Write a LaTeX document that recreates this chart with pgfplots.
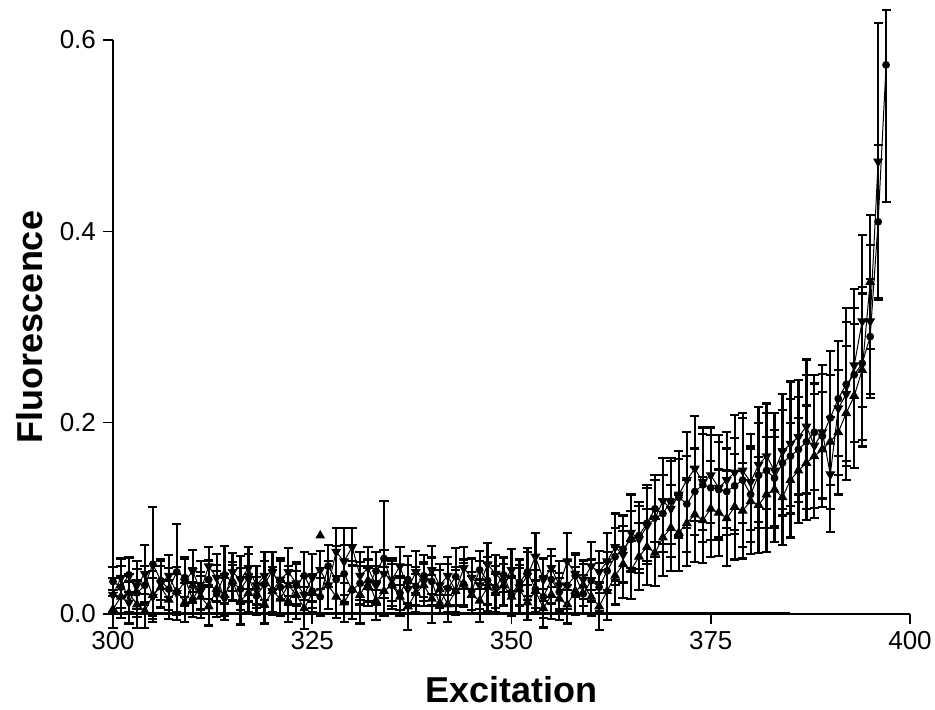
\documentclass[border=0pt]{standalone}
\usepackage{fontspec}
\setmainfont{Liberation Sans}
\usepackage{pgfplots}
\usepackage{pgfplotstable}
\pgfplotsset{compat=1.18}

\pgfplotstableread{
x y ep em
300 0.034 0.015 0.015
301 0.028 0.022 0.022
302 0.041 0.018 0.018
303 0.022 0.025 0.025
304 0.030 0.020 0.020
305 0.052 0.060 0.060
306 0.035 0.020 0.020
307 0.026 0.022 0.022
308 0.044 0.050 0.050
309 0.038 0.020 0.020
310 0.015 0.018 0.018
311 0.030 0.025 0.025
312 0.036 0.020 0.020
313 0.021 0.024 0.024
314 0.041 0.030 0.030
315 0.033 0.018 0.018
316 0.026 0.022 0.022
317 0.038 0.025 0.025
318 0.019 0.020 0.020
319 0.031 0.024 0.024
320 0.045 0.020 0.020
321 0.028 0.030 0.030
322 0.012 0.020 0.020
323 0.030 0.022 0.022
324 0.040 0.025 0.025
325 0.024 0.018 0.018
326 0.018 0.020 0.020
327 0.050 0.022 0.022
328 0.036 0.035 0.035
329 0.042 0.030 0.030
330 0.025 0.030 0.030
331 0.032 0.022 0.022
332 0.028 0.020 0.020
333 0.045 0.020 0.020
334 0.058 0.060 0.060
335 0.030 0.025 0.025
336 0.022 0.018 0.018
337 0.036 0.025 0.025
338 0.029 0.020 0.020
339 0.040 0.022 0.022
340 0.034 0.025 0.025
341 0.010 0.010 0.010
342 0.027 0.025 0.025
343 0.039 0.030 0.030
344 0.031 0.022 0.022
345 0.024 0.020 0.020
346 0.046 0.020 0.020
347 0.035 0.025 0.025
348 0.028 0.022 0.022
349 0.041 0.018 0.018
350 0.020 0.020 0.020
351 0.033 0.024 0.024
352 0.044 0.025 0.025
353 0.026 0.020 0.020
354 0.018 0.022 0.022
355 0.036 0.025 0.025
356 0.023 0.020 0.020
357 0.030 0.025 0.025
358 0.040 0.022 0.022
359 0.021 0.020 0.020
360 0.035 0.022 0.022
361 0.028 0.025 0.025
362 0.045 0.020 0.020
363 0.060 0.030 0.030
364 0.068 0.035 0.035
365 0.078 0.030 0.030
366 0.082 0.035 0.035
367 0.095 0.040 0.040
368 0.110 0.035 0.035
369 0.105 0.040 0.040
370 0.118 0.045 0.045
371 0.122 0.040 0.040
372 0.115 0.050 0.050
373 0.128 0.045 0.045
374 0.135 0.060 0.060
375 0.132 0.055 0.055
376 0.130 0.050 0.050
377 0.128 0.045 0.045
378 0.134 0.050 0.050
379 0.140 0.070 0.070
380 0.125 0.050 0.050
381 0.145 0.055 0.055
382 0.150 0.060 0.060
383 0.142 0.050 0.050
384 0.158 0.055 0.055
385 0.165 0.060 0.060
386 0.172 0.055 0.055
387 0.180 0.070 0.070
388 0.190 0.060 0.060
389 0.186 0.065 0.065
390 0.205 0.070 0.070
391 0.225 0.060 0.060
392 0.240 0.080 0.080
393 0.250 0.070 0.070
394 0.262 0.080 0.080
395 0.290 0.060 0.060
396 0.410 0.080 0.080
397 0.574 0.057 0.143
}\seriesA

\pgfplotstableread{
x y e
300 0.005 0.020
301 0.018 0.022
302 0.022 0.020
303 0.010 0.025
304 0.003 0.018
305 0.020 0.025
306 0.028 0.022
307 0.015 0.020
308 0.024 0.025
309 0.012 0.020
310 0.030 0.018
311 0.018 0.022
312 0.008 0.020
313 0.026 0.025
314 0.020 0.022
315 0.034 0.020
316 0.014 0.025
317 0.022 0.020
318 0.028 0.022
319 0.010 0.020
320 0.024 0.025
321 0.016 0.018
322 0.030 0.020
323 0.020 0.025
324 0.006 0.022
325 0.022 0.020
327 0.030 0.025
328 0.018 0.022
329 0.012 0.020
330 0.026 0.025
331 0.020 0.030
332 0.035 0.022
333 0.014 0.020
334 0.024 0.025
335 0.030 0.022
336 0.018 0.020
337 0.008 0.025
338 0.022 0.020
339 0.030 0.022
340 0.016 0.025
341 0.026 0.020
342 0.010 0.018
343 0.024 0.022
344 0.032 0.025
345 0.020 0.020
346 0.014 0.022
347 0.028 0.025
348 0.022 0.020
349 0.030 0.022
350 0.018 0.020
351 0.026 0.025
352 0.012 0.018
353 0.024 0.022
354 0.006 0.020
355 0.020 0.025
356 0.016 0.022
357 0.010 0.020
358 0.024 0.025
359 0.030 0.022
360 0.018 0.020
361 0.008 0.025
362 0.024 0.030
363 0.040 0.030
364 0.052 0.035
365 0.046 0.030
366 0.060 0.035
367 0.070 0.040
368 0.064 0.035
369 0.080 0.040
370 0.090 0.045
371 0.085 0.040
372 0.095 0.045
373 0.104 0.050
374 0.098 0.045
375 0.110 0.050
376 0.106 0.045
377 0.100 0.050
378 0.112 0.055
379 0.108 0.050
380 0.118 0.055
381 0.114 0.050
382 0.125 0.060
383 0.130 0.055
384 0.122 0.050
385 0.140 0.060
386 0.150 0.055
387 0.158 0.060
388 0.165 0.065
389 0.172 0.060
390 0.180 0.070
391 0.190 0.065
392 0.210 0.070
393 0.228 0.075
394 0.255 0.080
395 0.347 0.070
}\seriesB

\pgfplotstableread{
x y e
300 0.020 0.018
301 0.038 0.020
302 0.012 0.022
303 0.030 0.025
304 0.042 0.030
305 0.018 0.020
306 0.032 0.025
307 0.040 0.022
308 0.022 0.020
309 0.034 0.025
310 0.045 0.022
311 0.024 0.020
312 0.050 0.020
313 0.038 0.025
314 0.016 0.022
315 0.044 0.020
316 0.036 0.025
317 0.048 0.022
318 0.030 0.020
319 0.040 0.025
320 0.024 0.022
321 0.036 0.020
322 0.044 0.025
323 0.032 0.022
324 0.020 0.020
325 0.038 0.025
326 0.046 0.020
327 0.030 0.025
328 0.065 0.025
329 0.055 0.035
330 0.070 0.020
331 0.040 0.025
332 0.048 0.022
333 0.030 0.020
334 0.042 0.025
335 0.036 0.022
336 0.050 0.020
337 0.026 0.025
338 0.044 0.022
339 0.034 0.020
340 0.046 0.025
341 0.030 0.022
342 0.040 0.020
343 0.024 0.025
344 0.048 0.022
345 0.038 0.020
346 0.030 0.025
347 0.052 0.022
348 0.042 0.020
349 0.034 0.025
350 0.046 0.022
351 0.028 0.020
352 0.040 0.025
353 0.060 0.025
354 0.036 0.022
355 0.048 0.020
356 0.030 0.025
357 0.055 0.030
358 0.042 0.022
359 0.036 0.020
360 0.050 0.025
361 0.044 0.022
362 0.055 0.030
363 0.070 0.035
364 0.062 0.030
365 0.085 0.040
366 0.078 0.035
367 0.092 0.040
368 0.100 0.040
369 0.118 0.045
370 0.110 0.050
371 0.125 0.045
372 0.140 0.050
373 0.152 0.055
374 0.138 0.050
375 0.145 0.050
376 0.132 0.055
377 0.140 0.050
378 0.148 0.060
379 0.150 0.055
380 0.138 0.050
381 0.156 0.060
382 0.165 0.055
383 0.150 0.060
384 0.170 0.060
385 0.178 0.065
386 0.185 0.060
387 0.196 0.070
388 0.176 0.065
389 0.190 0.070
390 0.146 0.060
391 0.215 0.070
392 0.230 0.075
393 0.260 0.080
394 0.306 0.090
395 0.306 0.080
396 0.473 0.145
}\seriesC

\pgfplotsset{
  ebars/.style={
    error bars/.cd,
      y dir=both, y explicit,
      error bar style={line width=1.1pt, black, solid},
      error mark options={line width=1.1pt, black, mark size=2.3pt, rotate=90},
  },
}

\begin{document}
\begin{tikzpicture}
\begin{axis}[
  scale only axis,
  width=398.5pt, height=287pt,
  xmin=300, xmax=400, ymin=0, ymax=0.6,
  clip=false,
  axis lines=left,
  axis line style={line width=0.8pt, -},
  xtick={300,325,350,375,400},
  ytick={0,0.2,0.4,0.6},
  yticklabel style={/pgf/number format/.cd, fixed, fixed zerofill, precision=1},
  /pgf/number format/assume math mode=true,
  tick align=outside,
  major tick length=5pt,
  tick style={line width=0.8pt, black},
  ticklabel style={font=\fontsize{13pt}{15pt}\selectfont},
  xlabel={Excitation},
  ylabel={Fluorescence},
  label style={font=\fontsize{18pt}{21pt}\selectfont\bfseries},
  xlabel style={at={(axis description cs:0.5,0)}, anchor=center, yshift=-38pt},
  ylabel style={at={(axis description cs:0,0.5)}, anchor=center, yshift=41.5pt},
]
\addplot[black, line width=1.3pt] coordinates {(300,0) (300,0.3)};
\addplot[black, line width=0.9pt] coordinates {(300,0.0015) (385,0.0015)};
\addplot[black, line width=0.5pt, mark=*, mark size=1.7pt, mark options={solid},
  error bars/.cd, y dir=both, y explicit,
  error bar style={line width=1.1pt, black},
  error mark options={line width=1.1pt, black, mark size=2.3pt, rotate=90}]
  table[x=x, y=y, y error plus=ep, y error minus=em] {\seriesA};
\addplot[black, line width=0.5pt, mark=triangle*, mark size=2.4pt, mark options={solid},
  error bars/.cd, y dir=both, y explicit,
  error bar style={line width=1.1pt, black},
  error mark options={line width=1.1pt, black, mark size=2.3pt, rotate=90}]
  table[x=x, y=y, y error=e] {\seriesB};
\addplot[black, line width=0.5pt, mark=triangle*, mark size=2.4pt, mark options={solid, rotate=180},
  error bars/.cd, y dir=both, y explicit,
  error bar style={line width=1.1pt, black},
  error mark options={line width=1.1pt, black, mark size=2.3pt, rotate=90}]
  table[x=x, y=y, y error=e] {\seriesC};
\addplot[black, only marks, mark=triangle*, mark size=2.4pt] coordinates {(326,0.082)};
\end{axis}
\pgfresetboundingbox
\path[use as bounding box] (-56.5pt,-47.5pt) rectangle (411pt,307pt);
\end{tikzpicture}
\end{document}
